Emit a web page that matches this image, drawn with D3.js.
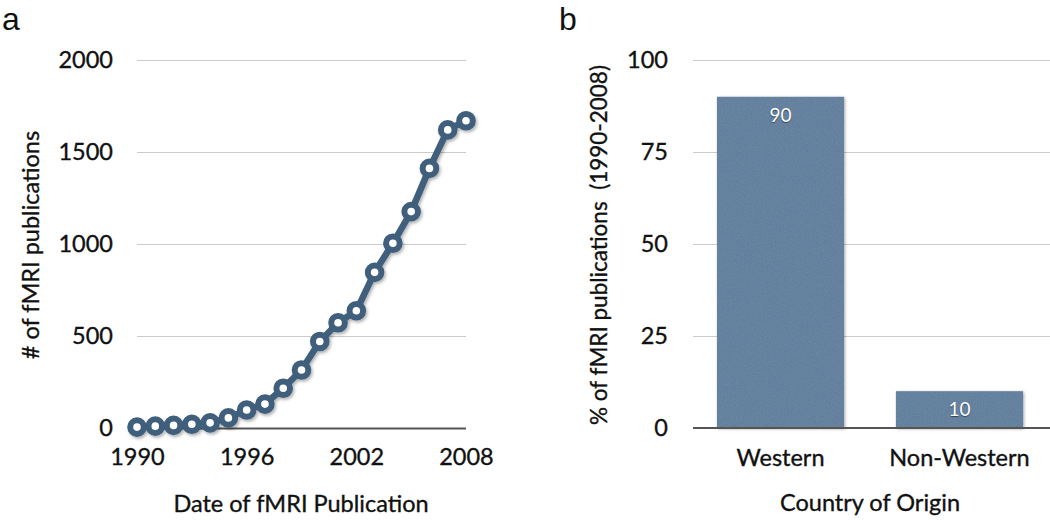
<!DOCTYPE html>
<html><head><meta charset="utf-8">
<script src="https://cdn.jsdelivr.net/npm/d3@7"></script>
<style>
html,body{margin:0;padding:0;background:#fff;}
svg{display:block;font-family:Lato,"Open Sans",sans-serif;}
.lbl{fill:#111;stroke:#111;stroke-width:0.35px;}
</style></head>
<body>
<svg id="chart" width="1050" height="520"></svg>
<script>
// ---- Data ----
const years = [1990,1991,1992,1993,1994,1995,1996,1997,1998,1999,2000,2001,2002,2003,2004,2005,2006,2007,2008];
const publications = [5,10,14,20,28,55,98,130,216,315,470,572,637,846,1004,1176,1411,1620,1670];
const yearTicks = [1990,1996,2002,2008];
const countTicks = [0,500,1000,1500,2000];
const regions = ["Western","Non-Western"];
const regionPercent = [90,10];
const percentTicks = [0,25,50,75,100];

const svg = d3.select("#chart");
const lineColor = "#3f5f7b";
const barColor = "#5a7898";
const gridColor = "#cbcbcb";
const baseColor = "#555";
const fontSize = 23.5;
const font = "Lato,sans-serif";

const defs = svg.append("defs");
const f = defs.append("filter").attr("id","shadow").attr("x","-20%").attr("y","-20%").attr("width","140%").attr("height","140%");
f.append("feDropShadow").attr("dx",1.5).attr("dy",2).attr("stdDeviation",1.5).attr("flood-color","#000").attr("flood-opacity",0.3);
const nf = defs.append("filter").attr("id","grain");
nf.append("feTurbulence").attr("type","fractalNoise").attr("baseFrequency",0.9).attr("numOctaves",2).attr("result","n");
nf.append("feColorMatrix").attr("in","n").attr("type","matrix")
  .attr("values","0 0 0 0 0.30  0 0 0 0 0.42  0 0 0 0 0.55  0 0 0 0.3 0").attr("result","c");
nf.append("feComposite").attr("in","c").attr("in2","SourceGraphic").attr("operator","in").attr("result","m");
nf.append("feMerge").call(m=>{m.append("feMergeNode").attr("in","SourceGraphic");m.append("feMergeNode").attr("in","m");});

function styleTicks(sel){
  sel.selectAll(".tick text").attr("font-size",fontSize).attr("font-family",font).attr("class","lbl");
}

// ---- Panel a ----
const xA = d3.scaleLinear().domain([1990,2008]).range([137,466]);
const yA = d3.scaleLinear().domain([0,2000]).range([428,60]);

const gA = svg.append("g");
gA.append("text").attr("x",2).attr("y",30).attr("font-size",32).attr("font-family","Liberation Sans,Arial,sans-serif").attr("fill","#111").text("a");

const yAxisA = d3.axisLeft(yA).tickValues(countTicks).tickSize(-(466-137)).tickPadding(24).tickFormat(d3.format("d"));
const gyA = gA.append("g").attr("transform","translate(137,0)").call(yAxisA);
gyA.select(".domain").remove();
gyA.selectAll(".tick line").attr("stroke",gridColor).attr("stroke-width",1.2);
styleTicks(gyA);
gyA.selectAll(".tick").filter(d=>d===0).select("line").attr("stroke",baseColor).attr("stroke-width",2);

const xAxisA = d3.axisBottom(xA).tickValues(yearTicks).tickSize(0).tickPadding(20).tickFormat(d3.format("d"));
const gxA = gA.append("g").attr("transform","translate(0,428)").call(xAxisA);
gxA.select(".domain").remove();
styleTicks(gxA);

gA.append("text").attr("class","lbl").attr("x",301).attr("y",512).attr("text-anchor","middle").attr("font-size",fontSize).text("Date of fMRI Publication");
gA.append("text").attr("class","lbl").attr("transform","translate(39,245) rotate(-90)").attr("text-anchor","middle").attr("font-size",fontSize).text("# of fMRI publications");

const pts = years.map((y,i)=>({x:y,y:publications[i]}));
const series = gA.append("g").attr("filter","url(#shadow)");
series.append("path").datum(pts)
  .attr("d", d3.line().x(d=>xA(d.x)).y(d=>yA(d.y)))
  .attr("fill","none").attr("stroke",lineColor).attr("stroke-width",6.5).attr("stroke-linejoin","round");
series.selectAll("circle").data(pts).join("circle")
  .attr("cx",d=>xA(d.x)).attr("cy",d=>yA(d.y)).attr("r",6.8)
  .attr("fill","#fff").attr("stroke",lineColor).attr("stroke-width",6);

// ---- Panel b ----
const xB = d3.scaleBand().domain(regions).range([693,1047]).paddingInner(0.29).paddingOuter(0.134);
const yB = d3.scaleLinear().domain([0,100]).range([428,60]);
const gB = svg.append("g");
gB.append("text").attr("x",559).attr("y",30).attr("font-size",32).attr("font-family","Liberation Sans,Arial,sans-serif").attr("fill","#111").text("b");

const yAxisB = d3.axisLeft(yB).tickValues(percentTicks).tickSize(-(1050-693)).tickPadding(25).tickFormat(d3.format("d"));
const gyB = gB.append("g").attr("transform","translate(693,0)").call(yAxisB);
gyB.select(".domain").remove();
gyB.selectAll(".tick line").attr("stroke",gridColor).attr("stroke-width",1.2);
styleTicks(gyB);

const bars = gB.append("g");
bars.selectAll("rect").data(regions).join("rect")
  .attr("x",d=>xB(d)).attr("width",xB.bandwidth())
  .attr("y",(d,i)=>yB(regionPercent[i])).attr("height",(d,i)=>yB(0)-yB(regionPercent[i]))
  .attr("fill",barColor)
  .style("filter","url(#grain) drop-shadow(1px 1px 1.5px rgba(0,0,0,0.35))");
bars.selectAll("text").data(regions).join("text")
  .attr("x",d=>xB(d)+xB.bandwidth()/2).attr("y",(d,i)=>yB(regionPercent[i])+25)
  .attr("text-anchor","middle").attr("font-size",19).attr("fill","#fff")
  .style("text-shadow","0 1px 1px rgba(0,0,0,0.5)")
  .text((d,i)=>regionPercent[i]);

gB.append("line").attr("x1",693).attr("x2",1050).attr("y1",yB(0)).attr("y2",yB(0)).attr("stroke",baseColor).attr("stroke-width",2);

const xAxisB = d3.axisBottom(xB).tickSize(0).tickPadding(21);
const gxB = gB.append("g").attr("transform","translate(0,428)").call(xAxisB);
gxB.select(".domain").remove();
styleTicks(gxB);

gB.append("text").attr("class","lbl").attr("x",870).attr("y",511).attr("text-anchor","middle").attr("font-size",fontSize).text("Country of Origin");
gB.append("text").attr("class","lbl").attr("transform","translate(607,245) rotate(-90)").attr("text-anchor","middle").attr("font-size",22.5)
  .style("white-space","pre").text("% of fMRI publications  (1990-2008)");
</script>
</body></html>
